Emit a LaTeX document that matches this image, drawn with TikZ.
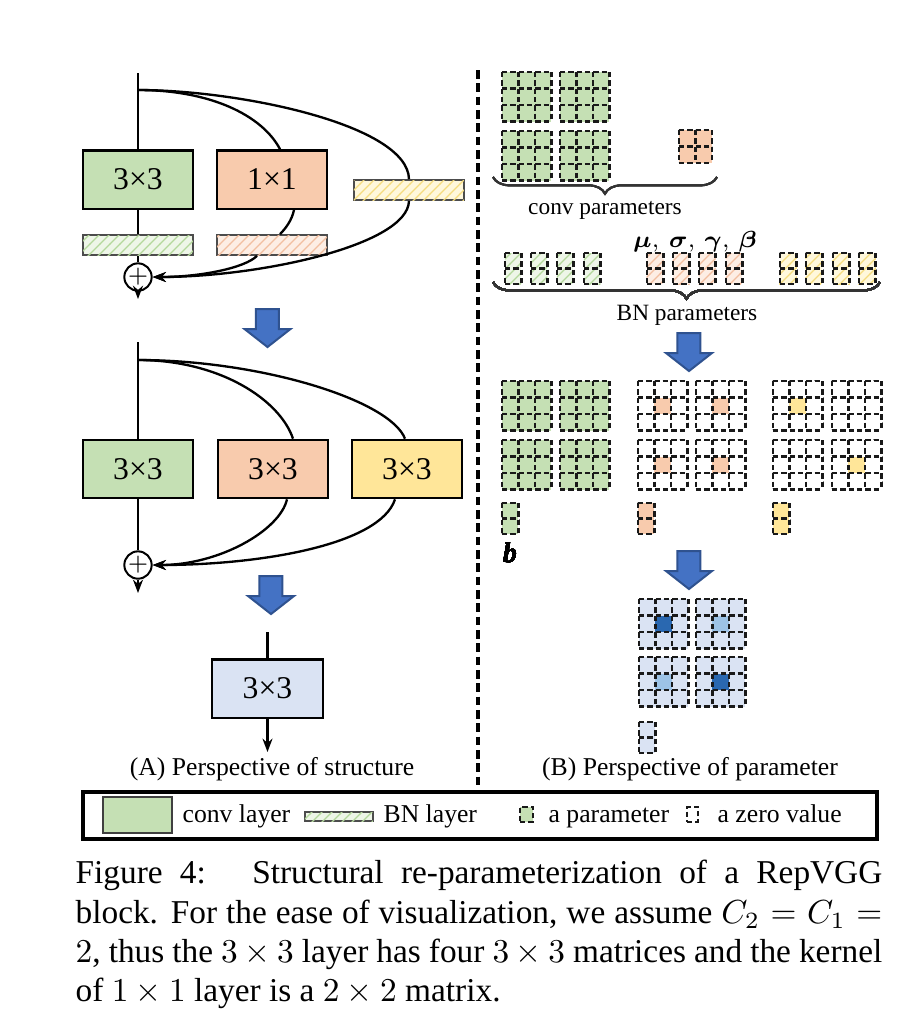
\documentclass[tikz,border=0pt]{standalone}
\usepackage{fontspec}
\setmainfont{Liberation Serif}
\usepackage{bm}
\usetikzlibrary{arrows.meta, patterns, decorations.pathreplacing}

\definecolor{convgreen}{HTML}{C5E0B4}
\definecolor{convorange}{HTML}{F8CBAD}
\definecolor{convyellow}{HTML}{FFE699}
\definecolor{convblue}{HTML}{DAE3F3}
\definecolor{arrowblue}{HTML}{4472C4}
\definecolor{arrowedge}{HTML}{2F528F}
\definecolor{darkblue}{HTML}{2A68B0}
\definecolor{midblue}{HTML}{9DC3E6}
\definecolor{bngreen}{HTML}{EEF6E8}
\definecolor{bnorange}{HTML}{FDEEE4}
\definecolor{bnyellow}{HTML}{FFF8DC}
\definecolor{hatchgreen}{HTML}{B4D89C}
\definecolor{hatchorange}{HTML}{F2BFA0}
\definecolor{hatchyellow}{HTML}{F5DC80}

% dashed kernel: x, y, columns, rows, cell height, fill, centre cell colour
\newcommand{\kernelgrid}[7]{%
  \fill[#6] (#1,#2) rectangle ++(#3*16.5,#4*#5);
  \fill[fill=#7] (#1+16.5,#2+16.5) rectangle ++(16.5,16.5);
  \foreach \k in {0,...,#3} \draw[dashgrid] (#1+\k*16.5,#2) -- ++(0,#4*#5);
  \foreach \k in {0,...,#4} \draw[dashgrid] (#1,#2+\k*#5) -- ++(#3*16.5,0);
}

% blue block arrow: centre x, top y
\newcommand{\blockarrow}[2]{%
  \draw[arrowedge, fill=arrowblue, line width=0.6pt, line join=miter]
    (#1-11.5,#2) -- (#1+11.5,#2) -- (#1+11.5,#2+20) -- (#1+23,#2+20)
    -- (#1,#2+38) -- (#1-23,#2+20) -- (#1-11.5,#2+20) -- cycle;
}

\begin{document}
\begin{tikzpicture}[x=0.3pt, y=-0.3pt, >={Stealth[length=4pt,width=3pt]},
    conv/.style={draw, line width=0.7pt, minimum width=33pt, minimum height=17.5pt,
      inner sep=0pt, font=\fontsize{9.5}{11}\selectfont},
    bn/.style={draw=black!70, line width=0.5pt, minimum width=33pt, minimum height=6pt, inner sep=0pt},
    bnfill/.style 2 args={fill=#1, postaction={pattern=north east lines, pattern color=#2}},
    sum/.style={draw, circle, line width=0.6pt, minimum size=8.2pt, inner sep=0pt,
      font=\fontsize{7}{7}\selectfont},
    flow/.style={line width=0.7pt},
    dashgrid/.style={draw=black!90, line width=0.65pt, dash pattern=on 1.6pt off 0.9pt},
    brace/.style={decorate, decoration={brace, mirror, amplitude=5pt}, draw=black!80, line width=0.6pt},
    smalltext/.style={font=\fontsize{7}{8}\selectfont},
    legendtext/.style={font=\fontsize{7.7}{9}\selectfont, inner sep=0pt}]

  \useasboundingbox (0,0) rectangle (916,1024);

  % Training-time block
  \coordinate (in1) at (138,73);
  \coordinate (br1) at (138,90);
  \node [conv, fill=convgreen] (g1) at (138,179.5) {3×3};
  \node [conv, fill=convorange] (o1) at (272,179.5) {1×1};
  \node [bn, bnfill={bnyellow}{hatchyellow}] (yb1) at (409,190) {};
  \node [bn, bnfill={bngreen}{hatchgreen}] (gb1) at (138,245) {};
  \node [bn, bnfill={bnorange}{hatchorange}] (ob1) at (272,245) {};
  \node [sum] (s1) at (138,277) {$+$};
  \coordinate (out1) at (138,299);

  \draw [flow] (in1) -- (g1);
  \draw [flow] (g1) -- (gb1);
  \draw [flow] (gb1) -- (s1);
  \draw [flow, ->] (s1) -- (out1);
  \draw [flow] (br1) .. controls (210,90) and (262,115) .. ([xshift=2.4pt]o1.north);
  \draw [flow] (br1) .. controls (240,90) and (408,125) .. (yb1.north);
  \draw [flow] ([xshift=6.6pt]o1.south) .. controls (292,220) and (286,228) .. ([xshift=2.4pt]ob1.north);
  \draw [flow, ->] ([xshift=-4.5pt]ob1.south) .. controls (245,268) and (200,277) .. (s1.east);
  \draw [flow, ->] (yb1.south) .. controls (408,245) and (260,277) .. (s1.east);

  \blockarrow{267.5}{309}

  % Three 3x3 branches
  \coordinate (in2) at (138,342);
  \coordinate (br2) at (138,360);
  \node [conv, fill=convgreen] (g2) at (138,469) {3×3};
  \node [conv, fill=convorange] (o2) at (273,469) {3×3};
  \node [conv, fill=convyellow] (y2) at (407,469) {3×3};
  \node [sum] (s2) at (138,565) {$+$};
  \coordinate (out2) at (138,593);

  \draw [flow] (in2) -- (g2);
  \draw [flow] (g2) -- (s2);
  \draw [flow, ->] (s2) -- (out2);
  \draw [flow] (br2) .. controls (220,360) and (280,400) .. ([xshift=6pt]o2.north);
  \draw [flow] (br2) .. controls (260,360) and (390,400) .. ([xshift=-0.6pt]y2.north);
  \draw [flow, ->] ([xshift=4.2pt]o2.south) .. controls (280,530) and (220,565) .. (s2.east);
  \draw [flow, ->] ([xshift=-3.6pt]y2.south) .. controls (380,545) and (260,565) .. (s2.east);

  \blockarrow{271}{576}

  % Inference-time block
  \coordinate (in3) at (267.5,632);
  \node [conv, fill=convblue, minimum width=33.3pt] (b3) at (267.5,688.5) {3×3};
  \coordinate (out3) at (267.5,752);
  \draw [flow] (in3) -- (b3);
  \draw [flow, ->] (b3) -- (out3);

  \node [legendtext] (capA) at (272,769) {(A) Perspective of structure};

  % Divider
  \draw [line width=1.1pt, dash pattern=on 2.6pt off 1.4pt] (478,70) -- (478,786);

  % Conv parameters
  \foreach \x/\y in {502/72, 560/72, 502/131, 560/131}
    \kernelgrid{\x}{\y}{3}{3}{16.5}{fill=convgreen}{none}
  \kernelgrid{679}{130}{2}{2}{16.5}{fill=convorange}{none}
  \draw [brace] (493,177) -- (717,177);
  \node [smalltext] (convlbl) at (605,210) {conv parameters};

  % BN parameters
  \node [font=\fontsize{7}{8}\selectfont] (bnsym) at (695,242)
    {$\bm{\mu},\,\bm{\sigma},\,\bm{\gamma},\,\bm{\beta}$};
  \foreach \x in {505,531,557,584}
    \kernelgrid{\x}{253}{1}{2}{15.5}{bnfill={bngreen}{hatchgreen}}{none}
  \foreach \x in {647,673,699,726}
    \kernelgrid{\x}{253}{1}{2}{15.5}{bnfill={bnorange}{hatchorange}}{none}
  \foreach \x in {780,806,833,859}
    \kernelgrid{\x}{253}{1}{2}{15.5}{bnfill={bnyellow}{hatchyellow}}{none}
  \draw [brace] (493,282) -- (880,282);
  \node [smalltext] (bnlbl) at (687,315) {BN parameters};

  \blockarrow{689}{333}

  % Fused branches
  \foreach \x/\y in {502/381, 560/381, 502/440, 560/440}
    \kernelgrid{\x}{\y}{3}{3}{16.5}{fill=convgreen}{none}
  \foreach \x/\y in {638/381, 696/381, 638/440, 696/440}
    \kernelgrid{\x}{\y}{3}{3}{16.5}{fill=white}{convorange}
  \kernelgrid{773}{381}{3}{3}{16.5}{fill=white}{convyellow}
  \kernelgrid{832}{381}{3}{3}{16.5}{fill=white}{none}
  \kernelgrid{773}{440}{3}{3}{16.5}{fill=white}{none}
  \kernelgrid{832}{440}{3}{3}{16.5}{fill=white}{convyellow}
  \kernelgrid{502}{503}{1}{2}{15.5}{fill=convgreen}{none}
  \kernelgrid{638}{503}{1}{2}{15.5}{fill=convorange}{none}
  \kernelgrid{773}{503}{1}{2}{15.5}{fill=convyellow}{none}
  \node [font=\fontsize{8.5}{9}\selectfont] (bias) at (510,553) {\textbf{\textit{b}}};

  \blockarrow{689}{551}

  % Single kernel
  \kernelgrid{639}{599}{3}{3}{16.5}{fill=convblue}{darkblue}
  \kernelgrid{696}{599}{3}{3}{16.5}{fill=convblue}{midblue}
  \kernelgrid{639}{657}{3}{3}{16.5}{fill=convblue}{midblue}
  \kernelgrid{696}{657}{3}{3}{16.5}{fill=convblue}{darkblue}
  \kernelgrid{639}{722}{1}{2}{15.5}{fill=convblue}{none}

  \node [legendtext] (capB) at (690,769) {(B) Perspective of parameter};

  % Legend
  \draw [line width=1pt] (83,792) rectangle (877,839);
  \node [draw=black!75, line width=0.5pt, fill=convgreen, minimum width=20.7pt, minimum height=10.8pt,
    inner sep=0pt] (lgconv) at (137.5,815) {};
  \node [legendtext, anchor=base west] (lgconvtxt) at (182,822) {conv layer};
  \node [bn, bnfill={bngreen}{hatchgreen}, minimum width=20.4pt, minimum height=2.7pt] (lgbn) at (339,816.5) {};
  \node [legendtext, anchor=base west] (lgbntxt) at (383,822) {BN layer};
  \node [dashgrid, fill=convgreen, minimum width=3.9pt, minimum height=4.5pt, inner sep=0pt] (lgpar) at (526.5,814.5) {};
  \node [legendtext, anchor=base west] (lgpartxt) at (548,822) {a parameter};
  \node [dashgrid, fill=white, minimum width=3.3pt, minimum height=4.5pt, inner sep=0pt] (lgzero) at (692.5,814.5) {};
  \node [legendtext, anchor=base west] (lgzerotxt) at (717,822) {a zero value};

  % Caption
  \node [anchor=north west, inner sep=0pt, text width=242pt, align=justify,
    font=\fontsize{10}{11.8}\selectfont] (caption) at (75,855.5)
    {\noindent\strut Figure 4:~ Structural re-parameterization of a RepVGG\linebreak
     block. For the ease of visualization, we assume $C_2 = C_1 =$\linebreak
     $2$, thus the $3\times3$ layer has four $3\times3$ matrices and the kernel\linebreak
     of $1\times1$ layer is a $2\times2$ matrix.};
\end{tikzpicture}
\end{document}
